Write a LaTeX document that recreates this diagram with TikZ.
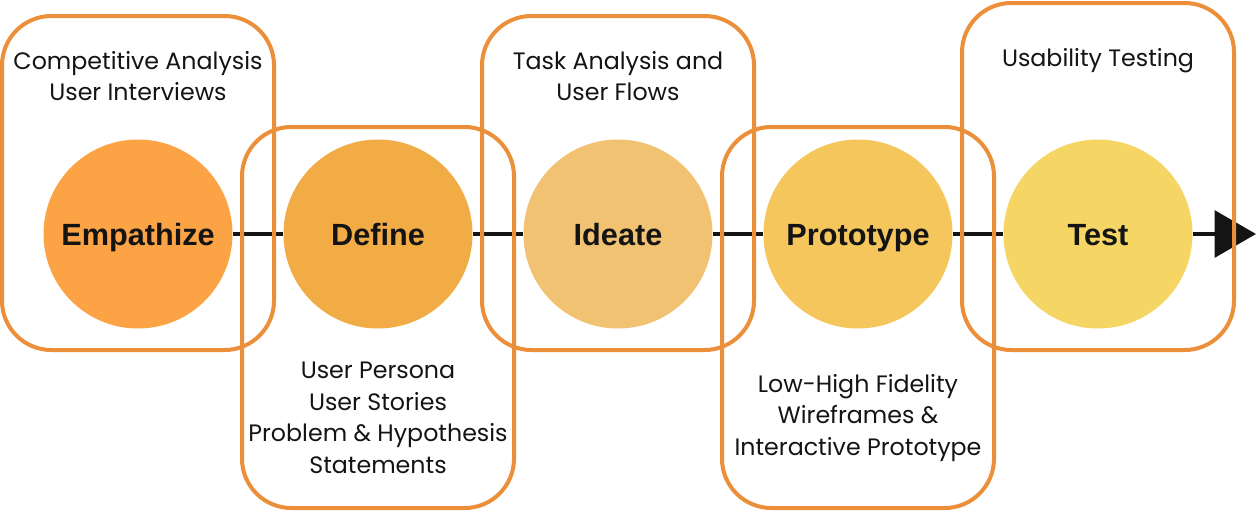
\documentclass[tikz,border=0pt]{standalone}
\usepackage{fontspec}
\setmainfont{Poppins}
\newfontfamily\stagefont{Liberation Sans}
\usetikzlibrary{arrows.meta}
\definecolor{boxorange}{HTML}{EB8F3A}
\definecolor{inkblack}{HTML}{141414}
\definecolor{empcol}{HTML}{FBA345}
\definecolor{defcol}{HTML}{F2AC45}
\definecolor{ideacol}{HTML}{F2C273}
\definecolor{protocol}{HTML}{F4C65B}
\definecolor{testcol}{HTML}{F5D665}

\begin{document}
\begin{tikzpicture}[x=0.75pt, y=-0.75pt,
  every node/.style = {align=center, text=inkblack},
  stage/.style = {circle, minimum size=141.75pt, inner sep=0pt,
    text height=16.5pt, text depth=0pt,
    font=\stagefont\bfseries\fontsize{23}{27}\selectfont},
  phasebox/.style = {draw=boxorange, line width=3pt, rounded corners=37pt},
  note/.style = {font=\fontsize{17.8}{23.6}\selectfont},
  flowline/.style = {draw=inkblack, line width=3pt}]
  \useasboundingbox (0,0) rectangle (1257,512);

  % stages
  \node[stage, fill=empcol]   (empathize) at (138,234)  {Empathize};
  \node[stage, fill=defcol]   (define)    at (378,234)  {Define};
  \node[stage, fill=ideacol]  (ideate)    at (618,234)  {Ideate};
  \node[stage, fill=protocol] (prototype) at (858,234)  {Prototype};
  \node[stage, fill=testcol]  (test)      at (1098,234) {Test};
  \coordinate (flowend) at (1256,234);

  % flow
  \draw[flowline] (empathize) -- (define);
  \draw[flowline] (define) -- (ideate);
  \draw[flowline] (ideate) -- (prototype);
  \draw[flowline] (prototype) -- (test);
  \draw[flowline, -{Triangle[length=31pt, width=35pt]}] (test) -- (flowend);

  % phase boxes
  \draw[phasebox] (2,16) rectangle (274,350);
  \draw[phasebox] (242,127) rectangle (514,508);
  \draw[phasebox] (482,16) rectangle (754,350);
  \draw[phasebox] (722,127) rectangle (994,508);
  \draw[phasebox] (962,3) rectangle (1234,350);

  % notes
  \node[note] (empnote)   at (138,76)   {Competitive Analysis\\User Interviews};
  \node[note] (defnote)   at (378,418)  {User Persona\\User Stories\\Problem \& Hypothesis\\Statements};
  \node[note] (ideanote)  at (618,76)   {Task Analysis and\\User Flows};
  \node[note] (protonote) at (858,418)  {Low-High Fidelity\\Wireframes \&\\Interactive Prototype};
  \node[note] (testnote)  at (1098,61)  {Usability Testing};
\end{tikzpicture}
\end{document}
